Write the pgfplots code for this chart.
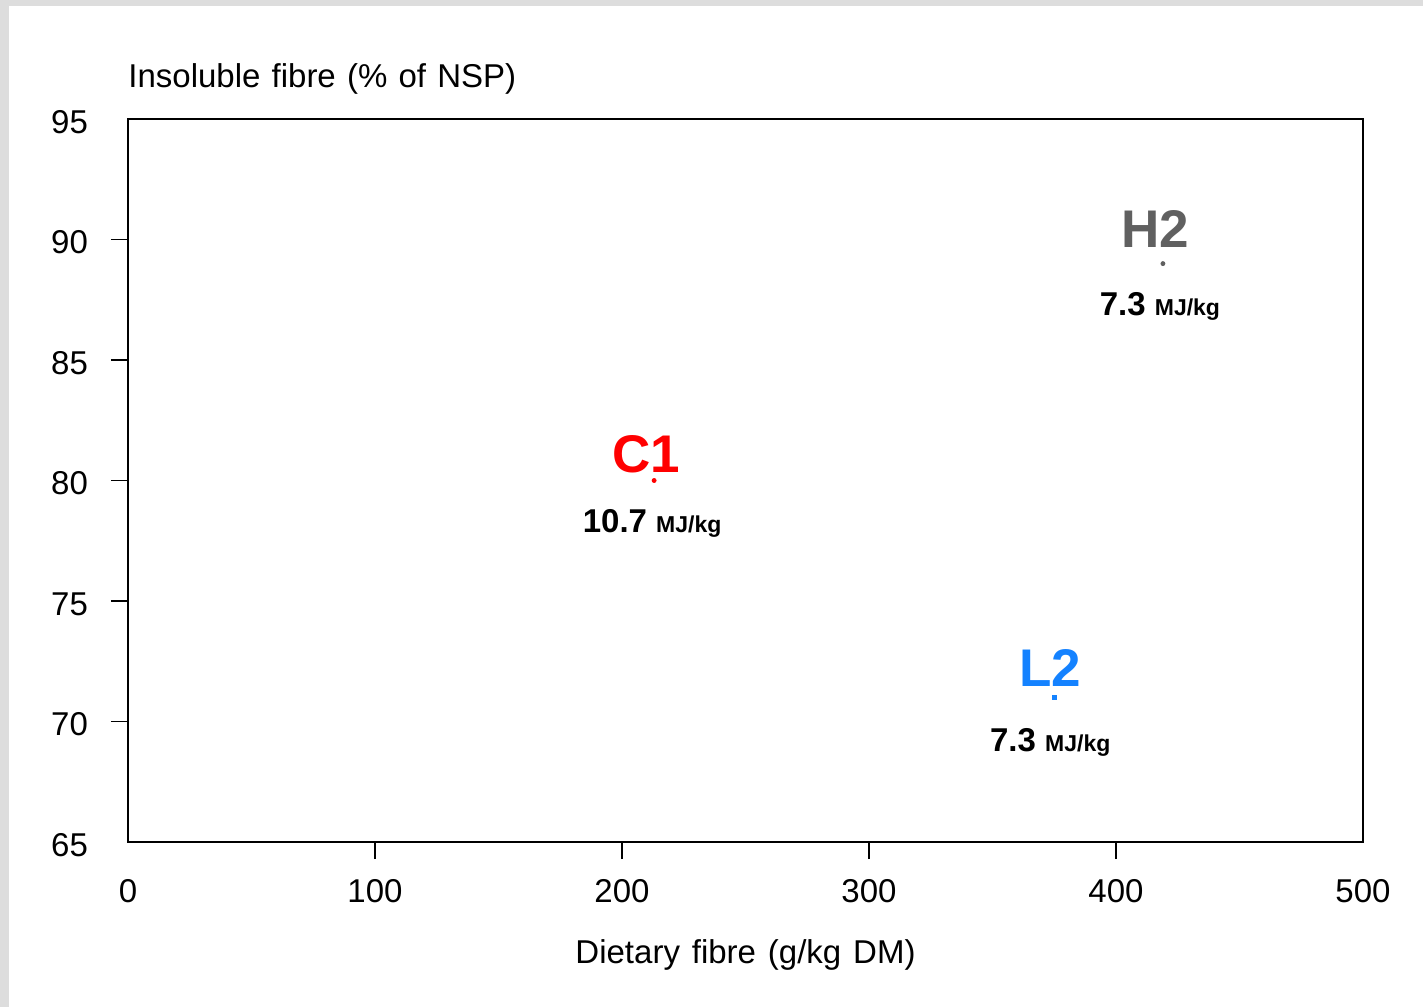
\documentclass[border=0pt]{standalone}
\usepackage{pgfplots}
\pgfplotsset{compat=1.18}
\usepackage{fontspec}
\setmainfont{Liberation Sans}
\definecolor{bggrey}{RGB}{221,221,221}
\definecolor{hgrey}{RGB}{96,96,96}
\definecolor{lblue}{RGB}{20,130,255}
\newcommand{\gap}[1]{\hspace{#1em}}
\begin{document}
\begin{tikzpicture}
\useasboundingbox (0,0) rectangle (711.5pt,503.5pt);
\fill[bggrey] (0,0) rectangle (711.5pt,503.5pt);
\fill[white] (4.5pt,0) rectangle (711.5pt,500.5pt);
\begin{axis}[
  at={(64pt,82.5pt)}, anchor=south west,
  scale only axis, width=617.5pt, height=361.5pt,
  xmin=0, xmax=500, ymin=65, ymax=95,
  xtick={100,200,300,400},
  ytick={70,75,80,85,90},
  extra x ticks={0,500},
  extra y ticks={65,95},
  extra x tick style={major tick style={draw=none}},
  extra y tick style={major tick style={draw=none}},
  xtick pos=bottom, ytick pos=left,
  tick align=outside, major tick length=8.5pt,
  axis line style={line width=0.7pt},
  major tick style={line width=0.7pt, black},
  /pgf/number format/assume math mode=true,
  tick label style={font=\fontsize{16.5pt}{20pt}\selectfont},
  xticklabel style={anchor=base, yshift=-21.5pt},
  yticklabel style={anchor=east, xshift=-8pt, yshift=-1.5pt},
  clip=false,
]
\addplot[only marks, mark=*, mark size=1pt, red] coordinates {(213,80)};
\addplot[only marks, mark=*, mark size=1pt, hgrey] coordinates {(419,89)};
\addplot[only marks, mark=square*, mark size=1pt, lblue] coordinates {(375,71)};
\node[anchor=base, text=red, font=\fontsize{26.5pt}{30pt}\selectfont\bfseries, xshift=-4pt, yshift=4pt] at (axis cs:213,80) {C1};
\node[anchor=base, text=hgrey, font=\fontsize{26.5pt}{30pt}\selectfont\bfseries, xshift=-4pt, yshift=8pt] at (axis cs:419,89) {H2};
\node[anchor=base, text=lblue, font=\fontsize{26.5pt}{30pt}\selectfont\bfseries, xshift=-2pt, yshift=5.5pt] at (axis cs:375,71) {L2};
\node[anchor=base, font=\bfseries, xshift=-1pt, yshift=-26pt] at (axis cs:213,80) {\fontsize{16.5pt}{20pt}\selectfont 10.7 \fontsize{11.5pt}{14pt}\selectfont MJ/kg};
\node[anchor=base, font=\bfseries, xshift=-1.5pt, yshift=-26pt] at (axis cs:419,89) {\fontsize{16.5pt}{20pt}\selectfont 7.3 \fontsize{11.5pt}{14pt}\selectfont MJ/kg};
\node[anchor=base, font=\bfseries, xshift=-2pt, yshift=-27pt] at (axis cs:375,71) {\fontsize{16.5pt}{20pt}\selectfont 7.3 \fontsize{11.5pt}{14pt}\selectfont MJ/kg};
\end{axis}
\node[anchor=base west, inner sep=0pt, font=\fontsize{16.5pt}{20pt}\selectfont] at (64pt,459.5pt) {Insoluble\gap{0.34}fibre\gap{0.34}(\%\gap{0.34}of\gap{0.34}NSP)};
\node[anchor=base, inner sep=0pt, font=\fontsize{16.5pt}{20pt}\selectfont] at (372.75pt,22pt) {Dietary\gap{0.36}fibre\gap{0.36}(g/kg\gap{0.36}DM)};
\end{tikzpicture}
\end{document}
